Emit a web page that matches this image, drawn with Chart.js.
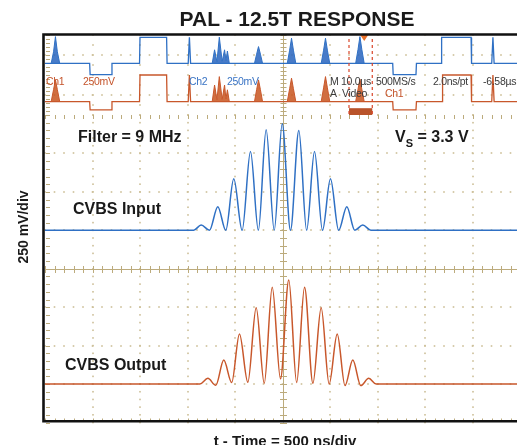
<!DOCTYPE html>
<html><head><meta charset="utf-8">
<script src="https://cdn.jsdelivr.net/npm/chart.js@4/dist/chart.umd.min.js"></script>
<style>
html,body{margin:0;padding:0;background:#fff;}
#wrap{position:relative;width:517px;height:445px;overflow:hidden;font-family:"Liberation Sans",Arial,sans-serif;background:#fff;}
canvas{position:absolute;left:0;top:0;}
.t{position:absolute;white-space:nowrap;line-height:1;}
.b{font-weight:bold;color:#1a1a1a;}
.s{font-size:10.5px;color:#3a3a3a;letter-spacing:-0.3px;}
.or{color:#c4532a;}
.bl{color:#3a74c4;}
</style></head><body>
<div id="wrap">
<canvas id="ov" width="530" height="445"></canvas>
<canvas id="main" width="530" height="445"></canvas>

<div class="t b" style="left:297px;top:18px;font-size:21px;transform:translate(-50%,-50%);">PAL - 12.5T RESPONSE</div>
<div class="t b" style="left:285px;top:433px;font-size:15px;transform:translateX(-50%);">t - Time = 500 ns/div</div>
<div class="t b" style="left:23px;top:227px;font-size:14px;transform:translate(-50%,-50%) rotate(-90deg);">250 mV/div</div>
<div class="t b" style="left:78px;top:128.5px;font-size:16px;">Filter = 9 MHz</div>
<div class="t b" style="left:395px;top:128.5px;font-size:16px;">V<span style="font-size:11px;position:relative;top:5px;">S</span> = 3.3 V</div>
<div class="t b" style="left:73px;top:201px;font-size:16px;">CVBS Input</div>
<div class="t b" style="left:65px;top:357px;font-size:16px;">CVBS Output</div>

<div class="t s or" style="left:46px;top:76px;">Ch1</div>
<div class="t s or" style="left:83px;top:76px;">250mV</div>
<div class="t s bl" style="left:189px;top:76px;">Ch2</div>
<div class="t s bl" style="left:227px;top:76px;">250mV</div>
<div class="t s" style="left:330px;top:76px;">M 10.0µs</div>
<div class="t s" style="left:376px;top:76px;">500MS/s</div>
<div class="t s" style="left:433px;top:76px;">2.0ns/pt</div>
<div class="t s" style="left:483px;top:76px;">-6.58µs</div>
<div class="t s" style="left:330px;top:87.5px;">A&nbsp;&nbsp;Video</div>
<div class="t s or" style="left:385px;top:87.5px;">Ch1</div>
</div>
<script>
// ---------- zoomed view (500 ns/div, 250 mV/div) ----------
const inTime = [-2500, -935, -856, -769, -681, -597, -513, -425, -337, -254, -172, -87, -3, 84, 172, 254, 337, 421, 505, 591, 677, 761, 845, 930, 2500];
const inMv   = [250, 250, 285, 250, 404, 250, 585, 250, 762, 250, 904, 250, 943, 250, 899, 250, 762, 250, 585, 250, 404, 250, 285, 250, 250];
const outTime = [-2500, -870, -786, -702, -618, -535, -453, -365, -277, -192, -108, -21, 66, 149, 232, 320, 407, 491, 576, 658, 740, 824, 908, 986, 2500];
const outMv   = [-750, -750, -713, -758, -594, -740, -424, -738, -253, -745, -120, -716, -73, -740, -120, -745, -253, -750, -424, -760, -594, -760, -713, -750, -750];

// ---------- overview (10 us/div, 250 mV/div) ----------
const blueOvT = [-50, -40.6, -40.5, -36.0, -35.9, -30.1, -30.0, -24.4, -24.3, -19.85, -19.6, -19.35, 23.2, 23.3, 28.1, 28.2, 33.4, 33.5, 39.7, 39.8, 44.05, 44.3, 44.55, 50];
const blueOvV = [290, 290, 10, 10, 290, 290, 940, 940, 290, 290, 940, 290, 290, 10, 10, 290, 290, 940, 940, 290, 290, 940, 290, 290];
const orangeOvT = [-50, -40.6, -40.5, -36.0, -35.9, -30.1, -30.0, -24.4, -24.3, -19.85, -19.6, -19.35, 23.2, 23.3, 28.1, 28.2, 33.6, 33.7, 39.7, 39.8, 44.05, 44.3, 44.55, 50];
const orangeOvV = [-665, -665, -870, -870, -665, -665, 0, 0, -665, -665, 0, -665, -665, -870, -870, -665, -665, 0, 0, -665, -665, 0, -665, -665];
const spikeT = [-48.7, -48.2, -47.8, -47.4, -46.9, -46.9, -14.8, -14.3, -13.8, -13.3, -12.7, -12.2, -11.9, -11.6, -11.2, -11.2, -5.9, -5.45, -5.05, -4.65, -4.2, -4.2, 1.0, 1.5, 1.9, 2.3, 2.8, 2.8, 8.15, 8.65, 9.05, 9.45, 9.95, 9.95, 15.4, 15.9, 16.3, 16.7, 17.2];
const blueSpikeV = [290, 580, 960, 580, 290, null, 290, 630, 330, 945, 340, 630, 360, 600, 290, null, 290, 520, 710, 520, 290, null, 290, 620, 920, 620, 290, null, 290, 620, 920, 620, 290, null, 290, 640, 960, 640, 290];
const orangeSpikeV = [-665, -365, -120, -365, -665, null, -665, -250, -620, -40, -610, -250, -600, -370, -665, null, -665, -367, -123, -367, -665, null, -665, -343, -80, -343, -665, null, -665, -321, -40, -321, -665, null, -665, -354, -100, -354, -665];
const zoomWindow = [14.0, 18.9];
const triggerAt = 17.2;

const BLUE = '#2f70c4', ORANGE = '#c8572b';
const pts = (xs, ys) => xs.map((x, i) => ({x, y: ys[i]}));

function graticule(id, o) {
  return {
    id,
    beforeDatasetsDraw(chart) {
      const {ctx, chartArea: a, scales: {x, y}} = chart;
      const X = f => x.getPixelForValue(x.min + (x.max - x.min) * f);
      const Y = f => y.getPixelForValue(y.min + (y.max - y.min) * f);
      ctx.save();
      ctx.fillStyle = o.dot;
      const d = 1.6;
      for (let i = 1; i < 10; i++) {
        if (i === 5) continue;
        const px = Math.round(X(i / 10));
        for (let j = 0; j <= 40; j += o.vStep) ctx.fillRect(px - d / 2, Y(j / 40) - d / 2, d, d);
      }
      for (const r of o.hRows) {
        const py = Math.round(Y(r / 8));
        for (let i = 0; i <= 50; i++) ctx.fillRect(X(i / 50) - d / 2, py - d / 2, d, d);
      }
      ctx.strokeStyle = o.cross; ctx.lineWidth = 1;
      ctx.beginPath();
      const cx = Math.round(X(0.5)) + 0.5, cy = Math.round(Y(0.5)) + 0.5;
      ctx.moveTo(cx, a.top); ctx.lineTo(cx, a.bottom);
      for (let j = 0; j <= 40; j += o.tStep) {
        const py = Math.round(Y(j / 40)) + 0.5;
        ctx.moveTo(cx - o.tk, py); ctx.lineTo(cx + o.tk, py);
        ctx.moveTo(a.left + 1, py); ctx.lineTo(a.left + o.left, py);
      }
      if (o.hCross) {
        ctx.moveTo(a.left, cy); ctx.lineTo(a.right, cy);
        for (let i = 0; i <= 50; i++) {
          const px = Math.round(X(i / 50)) + 0.5;
          ctx.moveTo(px, cy - o.tk); ctx.lineTo(px, cy + o.tk);
        }
      }
      for (let i = 0; i <= 50; i++) {
        const px = Math.round(X(i / 50)) + 0.5;
        if (o.bottom) { ctx.moveTo(px, a.bottom - 1); ctx.lineTo(px, a.bottom - o.bottom); }
        if (o.top) { ctx.moveTo(px, a.top); ctx.lineTo(px, a.top + o.top); }
      }
      ctx.stroke();
      ctx.restore();
    },
    afterDraw(chart) {
      const {ctx, chartArea: a} = chart;
      ctx.save();
      ctx.strokeStyle = '#111'; ctx.lineWidth = 2.6;
      ctx.beginPath();
      ctx.moveTo(a.left - 1.5, o.frameTop ? a.top - 1.5 : a.top);
      ctx.lineTo(a.left - 1.5, a.bottom);
      if (o.frameTop) { ctx.moveTo(a.left - 2.8, a.top - 0.5); ctx.lineTo(a.right + 5, a.top - 0.5); }
      if (o.frameBottom) { ctx.moveTo(a.left - 2.8, a.bottom - 1.2); ctx.lineTo(a.right + 5, a.bottom - 1.2); }
      ctx.stroke();
      ctx.restore();
    }
  };
}

const overlay = {
  id: 'overlay',
  afterDatasetsDraw(chart) {
    const {ctx, chartArea: a, scales: {x, y}} = chart;
    const x0 = x.getPixelForValue(zoomWindow[0]), x1 = x.getPixelForValue(zoomWindow[1]);
    ctx.save();
    ctx.fillStyle = '#b9532a';
    ctx.fillRect(x0, y.getPixelForValue(-830), x1 - x0, y.getPixelForValue(-1000) - y.getPixelForValue(-830));
    ctx.strokeStyle = '#d9462a'; ctx.lineWidth = 1.2; ctx.setLineDash([3, 3]);
    ctx.beginPath();
    ctx.moveTo(x0, a.top + 4); ctx.lineTo(x0, a.bottom);
    ctx.moveTo(x1, a.top + 4); ctx.lineTo(x1, a.bottom);
    ctx.stroke();
    ctx.setLineDash([]);
    const tx = x.getPixelForValue(triggerAt);
    ctx.fillStyle = '#e8702a';
    ctx.beginPath(); ctx.moveTo(tx - 4, a.top); ctx.lineTo(tx + 4, a.top); ctx.lineTo(tx, a.top + 6); ctx.closePath(); ctx.fill();
    ctx.restore();
  }
};

const common = (pad) => ({
  responsive: false, animation: false, devicePixelRatio: 1,
  layout: {padding: pad},
  plugins: {legend: {display: false}, tooltip: {enabled: false}},
  elements: {point: {radius: 0}},
});

new Chart(document.getElementById('ov'), {
  type: 'line',
  data: {datasets: [
    {data: pts(blueOvT, blueOvV), borderColor: BLUE, borderWidth: 1.3, fill: false},
    {data: pts(orangeOvT, orangeOvV), borderColor: ORANGE, borderWidth: 1.3, fill: false},
    {data: pts(spikeT, blueSpikeV), borderColor: BLUE, backgroundColor: 'rgba(40,100,190,0.85)', borderWidth: 1, fill: {value: 290}, spanGaps: false},
    {data: pts(spikeT, orangeSpikeV), borderColor: ORANGE, backgroundColor: 'rgba(200,85,30,0.85)', borderWidth: 1, fill: {value: -665}, spanGaps: false},
  ]},
  options: Object.assign(common({left: 45, right: 10, top: 35, bottom: 330}), {
    scales: {x: {type: 'linear', min: -50, max: 50, display: false}, y: {min: -1000, max: 1000, display: false}}
  }),
  plugins: [graticule('gratOv', {dot: '#cdbf98', cross: '#bcab7c', vStep: 5, hRows: [2, 6], tStep: 2, tk: 3, left: 5, hCross: false, bottom: 0, top: 0, frameTop: true}), overlay]
});

new Chart(document.getElementById('main'), {
  type: 'line',
  data: {datasets: [
    {data: pts(inTime, inMv), borderColor: BLUE, borderWidth: 1.5, fill: false, cubicInterpolationMode: 'monotone'},
    {data: pts(outTime, outMv), borderColor: ORANGE, borderWidth: 1.5, fill: false, cubicInterpolationMode: 'monotone'},
  ]},
  options: Object.assign(common({left: 45, right: 10, top: 115, bottom: 22.5}), {
    scales: {x: {type: 'linear', min: -2500, max: 2500, display: false}, y: {min: -1000, max: 1000, display: false}}
  }),
  plugins: [graticule('gratMain', {dot: '#cdbf98', cross: '#bcab7c', vStep: 1, hRows: [1, 2, 3, 5, 6, 7], tStep: 1, tk: 3.5, left: 5, hCross: true, bottom: 4, top: 4, frameBottom: true})]
});
</script>
</body></html>
